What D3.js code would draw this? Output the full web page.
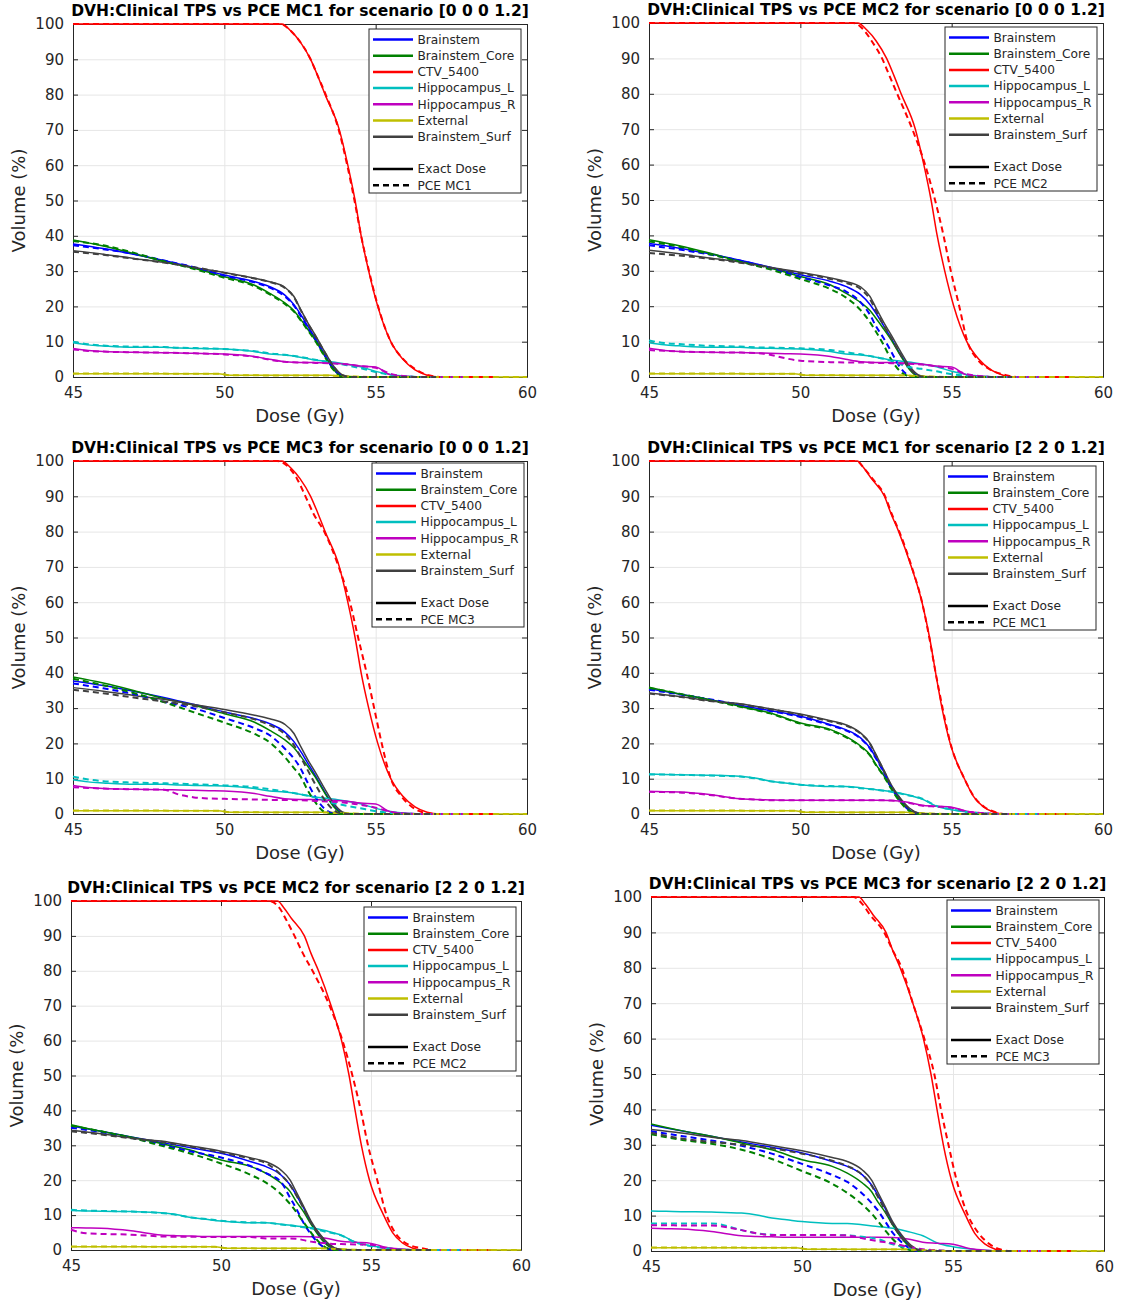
<!DOCTYPE html>
<html>
<head>
<meta charset="utf-8">
<script src="https://cdn.jsdelivr.net/npm/d3@7"></script>
<style>
  html, body { margin: 0; padding: 0; background: #ffffff; }
  svg { display: block; font-family: "DejaVu Sans", "Liberation Sans", sans-serif; }
</style>
</head>
<body>
<svg id="fig" width="1121" height="1304"></svg>
<script>
// ---------------- data ----------------
const structureNames = ["Brainstem", "Brainstem_Core", "CTV_5400", "Hippocampus_L",
                        "Hippocampus_R", "External", "Brainstem_Surf"];

const panelTitles = [
  "DVH:Clinical TPS vs PCE MC1 for scenario [0 0 0 1.2]",
  "DVH:Clinical TPS vs PCE MC2 for scenario [0 0 0 1.2]",
  "DVH:Clinical TPS vs PCE MC3 for scenario [0 0 0 1.2]",
  "DVH:Clinical TPS vs PCE MC1 for scenario [2 2 0 1.2]",
  "DVH:Clinical TPS vs PCE MC2 for scenario [2 2 0 1.2]",
  "DVH:Clinical TPS vs PCE MC3 for scenario [2 2 0 1.2]"
];
const pceLabels = ["PCE MC1", "PCE MC2", "PCE MC3", "PCE MC1", "PCE MC2", "PCE MC3"];
const panelScenario = ["s0", "s0", "s0", "s2", "s2", "s2"];
const panelRun = ["mc1", "mc2", "mc3", "mc1", "mc2", "mc3"];

const xTicks = [45, 50, 55, 60];
const yTicks = [0, 10, 20, 30, 40, 50, 60, 70, 80, 90, 100];

// Brainstem family: volume (%) sampled on a shared dose grid (Gy)
const bsDose = [45, 46, 47, 48, 49, 50, 51, 51.5, 52, 52.3, 52.5, 52.75, 53, 53.3, 53.6, 53.9, 54.2, 57];

const brainstemVol = {
  exact_s0: [37.7, 36.4, 34.8, 33.0, 31.0, 28.9, 27.0, 25.6, 23.2, 20.5, 18.0, 14.5, 11.0, 6.5, 2.6, 0.3, 0, 0],
  mc1_s0:   [37.3, 36.2, 34.9, 33.0, 31.1, 28.7, 26.8, 25.3, 22.8, 20.2, 17.6, 14.2, 10.8, 6.4, 2.4, 0.3, 0, 0],
  mc2_s0:   [37.2, 36.0, 34.6, 32.9, 30.8, 28.2, 25.8, 24.2, 21.0, 17.6, 14.3, 11.0, 7.2, 2.7, 0.4, 0, 0, 0],
  mc3_s0:   [37.0, 35.6, 34.0, 31.8, 29.9, 27.2, 24.3, 22.3, 18.5, 15.7, 13.2, 8.9, 4.9, 1.6, 0.2, 0, 0, 0],
  exact_s2: [35.5, 34.0, 32.4, 30.8, 29.3, 27.7, 25.3, 23.9, 21.5, 18.7, 15.9, 12.1, 7.8, 4.1, 1.2, 0.1, 0, 0],
  mc1_s2:   [35.2, 33.9, 32.5, 30.9, 29.2, 27.5, 25.1, 23.7, 21.3, 18.5, 15.7, 11.9, 7.6, 3.9, 1.1, 0.1, 0, 0],
  mc2_s2:   [35.0, 33.8, 32.2, 30.2, 28.2, 26.5, 24.0, 22.0, 19.5, 15.0, 12.0, 7.8, 4.5, 1.6, 0.3, 0, 0, 0],
  mc3_s2:   [33.8, 32.5, 31.2, 29.7, 27.5, 24.6, 21.5, 19.5, 16.2, 13.6, 11.6, 8.4, 5.2, 2.5, 0.6, 0, 0, 0]
};

const coreVol = {
  exact_s0: [38.8, 37.1, 35.0, 32.7, 30.8, 28.4, 26.0, 23.7, 21.0, 18.8, 16.6, 13.6, 10.5, 6.2, 2.2, 0.1, 0, 0],
  mc1_s0:   [38.5, 37.3, 35.2, 32.8, 30.6, 28.1, 25.7, 23.4, 20.7, 18.5, 16.3, 13.3, 10.3, 6.0, 2.1, 0.1, 0, 0],
  mc2_s0:   [38.3, 36.8, 34.7, 32.6, 30.4, 27.7, 24.8, 22.5, 18.8, 15.5, 12.8, 9.1, 5.0, 1.6, 0.2, 0, 0, 0],
  mc3_s0:   [38.3, 36.5, 34.3, 31.7, 28.8, 25.9, 22.7, 20.3, 16.1, 13.0, 10.9, 6.8, 3.4, 0.6, 0, 0, 0, 0],
  exact_s2: [35.9, 34.0, 32.4, 30.5, 28.6, 25.8, 23.9, 22.0, 19.2, 16.8, 14.0, 11.0, 7.4, 3.6, 1.0, 0, 0, 0],
  mc1_s2:   [35.7, 34.1, 32.3, 30.4, 28.5, 25.6, 23.7, 21.8, 19.0, 16.6, 13.8, 10.8, 7.2, 3.4, 0.9, 0, 0, 0],
  mc2_s2:   [35.6, 34.0, 32.2, 29.9, 27.6, 24.8, 21.5, 19.3, 16.0, 13.2, 11.0, 8.0, 5.0, 2.0, 0.3, 0, 0, 0],
  mc3_s2:   [33.0, 31.4, 30.3, 28.6, 26.0, 22.6, 19.0, 16.4, 13.1, 10.6, 8.6, 5.9, 3.4, 1.1, 0.2, 0, 0, 0]
};

const surfVol = {
  exact_s0: [35.8, 34.8, 33.6, 32.5, 31.0, 29.6, 28.0, 27.0, 25.4, 22.8, 19.5, 15.5, 11.9, 7.4, 3.2, 0.6, 0, 0],
  mc1_s0:   [35.5, 34.6, 33.5, 32.4, 31.1, 29.5, 27.9, 26.9, 25.2, 22.6, 19.3, 15.3, 11.7, 7.2, 3.1, 0.5, 0, 0],
  mc2_s0:   [35.0, 34.3, 33.4, 32.3, 30.9, 29.3, 27.7, 26.6, 24.8, 22.0, 18.7, 14.6, 11.0, 6.5, 2.5, 0.4, 0, 0],
  mc3_s0:   [35.2, 34.2, 33.0, 31.9, 30.6, 28.8, 26.8, 25.2, 22.6, 19.5, 16.5, 12.5, 8.5, 4.2, 1.2, 0.1, 0, 0],
  exact_s2: [34.3, 33.3, 32.1, 31.2, 29.8, 28.3, 26.4, 25.3, 22.9, 20.1, 16.8, 12.6, 8.3, 4.5, 1.7, 0.3, 0, 0],
  mc1_s2:   [34.1, 33.2, 32.0, 31.1, 29.7, 28.1, 26.2, 25.1, 22.7, 19.9, 16.6, 12.4, 8.1, 4.3, 1.5, 0.2, 0, 0],
  mc2_s2:   [34.0, 33.1, 32.0, 31.0, 29.6, 28.0, 26.1, 24.9, 21.5, 18.6, 15.8, 12.0, 7.8, 4.2, 1.5, 0.2, 0, 0],
  mc3_s2:   [33.4, 31.8, 30.8, 30.0, 29.0, 27.5, 25.5, 24.0, 21.5, 18.5, 15.5, 11.5, 7.5, 3.8, 1.2, 0.2, 0, 0]
};

// CTV: dose (Gy) at which each volume level is reached
const ctvVol = [100, 100, 98, 95, 90, 85, 80, 70, 60, 50, 40, 30, 20, 10, 5, 2, 0.5, 0, 0];
const ctvDose = {
  exact_s0: [45, 51.9, 52.2, 52.5, 52.85, 53.1, 53.33, 53.8, 54.08, 54.32, 54.52, 54.77, 55.07, 55.5, 55.9, 56.3, 56.7, 57.1, 59],
  mc1_s0:   [45, 51.85, 52.2, 52.5, 52.85, 53.1, 53.35, 53.78, 54.06, 54.3, 54.52, 54.78, 55.08, 55.5, 55.92, 56.35, 56.75, 57.2, 59],
  mc2_s0:   [45, 51.75, 52.1, 52.35, 52.7, 52.95, 53.2, 53.7, 54.12, 54.45, 54.73, 54.97, 55.25, 55.52, 55.85, 56.3, 56.8, 57.2, 59],
  mc3_s0:   [45, 51.75, 52.15, 52.4, 52.68, 52.95, 53.3, 53.78, 54.15, 54.42, 54.7, 54.95, 55.2, 55.5, 55.85, 56.2, 56.55, 57.0, 59],
  exact_s2: [45, 51.88, 52.1, 52.35, 52.78, 53.0, 53.25, 53.67, 54.02, 54.27, 54.47, 54.68, 54.95, 55.42, 55.72, 56.05, 56.4, 56.7, 59],
  mc1_s2:   [45, 51.85, 52.1, 52.38, 52.8, 53.02, 53.27, 53.68, 54.02, 54.26, 54.47, 54.7, 54.96, 55.42, 55.73, 56.08, 56.45, 56.8, 59],
  mc2_s2:   [45, 51.6, 51.95, 52.15, 52.45, 52.73, 53.05, 53.62, 54.05, 54.38, 54.66, 54.9, 55.21, 55.52, 55.8, 56.15, 56.7, 57.1, 59],
  mc3_s2:   [45, 51.7, 52.0, 52.25, 52.72, 53.0, 53.3, 53.67, 54.05, 54.38, 54.6, 54.85, 55.12, 55.5, 55.85, 56.2, 56.55, 56.9, 59]
};

// Hippocampi: volume (%) on a shared dose grid (Gy)
const hipDose = [45, 45.5, 46, 47, 48, 48.5, 49, 49.5, 50, 51, 51.5, 52, 52.5, 53, 53.5, 54, 54.5, 55, 55.5, 56, 56.5, 58];

const hipLVol = {
  exact_s0: [9.7, 9.1, 8.8, 8.4, 8.4, 8.2, 8.1, 8.0, 7.9, 7.2, 6.5, 6.2, 5.6, 4.8, 4.3, 3.7, 2.9, 1.6, 0.7, 0.2, 0, 0],
  mc1_s0:   [10.0, 9.3, 8.9, 8.6, 8.5, 8.3, 8.2, 8.1, 7.9, 7.3, 6.7, 6.3, 5.7, 4.9, 4.1, 3.4, 2.5, 1.4, 0.6, 0.2, 0, 0],
  mc2_s0:   [10.3, 9.6, 9.3, 8.8, 8.6, 8.4, 8.3, 8.2, 8.1, 7.6, 7.0, 6.4, 5.6, 4.6, 3.0, 2.3, 1.6, 0.8, 0.4, 0.1, 0, 0],
  mc3_s0:   [10.6, 9.8, 9.3, 8.9, 8.7, 8.6, 8.4, 8.3, 8.1, 7.6, 7.0, 6.4, 5.6, 4.7, 3.3, 2.4, 1.6, 0.8, 0.3, 0.1, 0, 0],
  exact_s2: [11.3, 11.2, 11.1, 11.0, 10.7, 10.2, 9.3, 8.8, 8.3, 7.8, 7.8, 7.4, 6.9, 6.4, 5.5, 4.3, 2.2, 1.2, 0.6, 0.2, 0, 0],
  mc1_s2:   [11.2, 11.2, 11.1, 10.9, 10.6, 10.1, 9.3, 8.8, 8.3, 7.9, 7.8, 7.3, 6.9, 6.3, 5.4, 4.4, 2.3, 1.3, 0.6, 0.2, 0, 0],
  mc2_s2:   [11.5, 11.3, 11.2, 11.0, 10.6, 10.1, 9.3, 8.9, 8.4, 7.9, 7.8, 7.3, 6.8, 6.2, 5.2, 4.2, 2.1, 1.1, 0.5, 0.1, 0, 0],
  mc3_s2:   [7.8, 7.8, 7.8, 7.8, 5.9, 5.0, 4.6, 4.5, 4.5, 4.5, 4.4, 4.0, 3.4, 1.9, 0.9, 0.3, 0.1, 0, 0, 0, 0, 0]
};

const hipRVol = {
  exact_s0: [8.1, 7.5, 7.2, 7.0, 6.9, 6.8, 6.7, 6.6, 6.5, 5.8, 5.0, 4.3, 4.1, 4.1, 3.9, 3.7, 3.1, 2.8, 0.6, 0.2, 0, 0],
  mc1_s0:   [7.8, 7.4, 7.2, 7.0, 6.9, 6.8, 6.7, 6.6, 6.4, 5.7, 4.9, 4.3, 4.1, 4.0, 3.9, 3.6, 3.1, 2.6, 0.9, 0.2, 0, 0],
  mc2_s0:   [7.6, 7.4, 7.2, 7.0, 6.9, 6.8, 6.3, 5.3, 4.6, 4.2, 4.1, 4.1, 4.0, 3.9, 3.8, 3.5, 3.0, 2.3, 0.8, 0.2, 0, 0],
  mc3_s0:   [7.6, 7.4, 7.2, 7.0, 6.9, 5.5, 4.7, 4.4, 4.3, 4.1, 4.0, 4.0, 3.9, 3.7, 3.5, 3.2, 2.6, 1.8, 0.6, 0.1, 0, 0],
  exact_s2: [6.4, 6.3, 6.2, 5.5, 4.3, 4.1, 4.0, 3.9, 3.9, 3.9, 3.9, 3.9, 3.9, 3.8, 3.4, 2.5, 2.2, 1.9, 0.8, 0.3, 0, 0],
  mc1_s2:   [6.3, 6.2, 6.1, 5.4, 4.3, 4.1, 3.9, 3.9, 3.9, 3.9, 3.9, 3.9, 3.9, 3.8, 3.3, 2.4, 2.1, 1.8, 0.7, 0.3, 0, 0],
  mc2_s2:   [5.8, 4.8, 4.6, 4.4, 3.9, 3.8, 3.8, 3.7, 3.7, 3.7, 3.3, 3.3, 3.2, 2.4, 1.9, 1.7, 1.6, 1.5, 0.5, 0.1, 0, 0],
  mc3_s2:   [7.3, 7.3, 7.2, 7.2, 5.9, 5.0, 4.5, 4.5, 4.5, 4.5, 4.4, 3.6, 2.8, 2.2, 1.2, 0.5, 0.2, 0, 0, 0, 0, 0]
};

// External body contour
const extDose = [45, 49.8, 50.2, 53.5, 54, 55, 60];
const externalVol = {
  exact_s0: [0.9, 0.9, 0.5, 0.5, 0.2, 0, 0],
  mc1_s0:   [1.0, 0.9, 0.5, 0.4, 0.2, 0, 0],
  mc2_s0:   [1.0, 0.9, 0.5, 0.4, 0.2, 0, 0],
  mc3_s0:   [1.0, 0.9, 0.5, 0.4, 0.2, 0, 0],
  exact_s2: [0.9, 0.9, 0.5, 0.5, 0.2, 0, 0],
  mc1_s2:   [1.0, 0.9, 0.5, 0.4, 0.2, 0, 0],
  mc2_s2:   [1.0, 0.9, 0.5, 0.4, 0.2, 0, 0],
  mc3_s2:   [1.0, 0.9, 0.5, 0.4, 0.2, 0, 0]
};

// ---------------- styles and layout ----------------
const structureColors = ["#0000ff", "#008000", "#ff0000", "#00bfbf", "#bf00bf", "#bfbf00", "#404040"];
const inkColor = "#262626";
const gridColor = "#e6e6e6";

const panelBoxes = [
  { left: 73,  right: 527,  top: 24,  bottom: 377,  legendX: 369, legendY: 29 },
  { left: 649, right: 1103, top: 23,  bottom: 377,  legendX: 945, legendY: 27 },
  { left: 73,  right: 527,  top: 461, bottom: 814,  legendX: 372, legendY: 463 },
  { left: 649, right: 1103, top: 461, bottom: 814,  legendX: 944, legendY: 466 },
  { left: 71,  right: 521,  top: 901, bottom: 1250, legendX: 364, legendY: 907 },
  { left: 651, right: 1104, top: 897, bottom: 1251, legendX: 947, legendY: 900 }
];
const legendW = 152, legendH = 164, legendRow = 16.2, legendFirst = 10.5;

// structure index -> how its curve is stored
const structureData = [
  { dose: bsDose,  vol: brainstemVol },
  { dose: bsDose,  vol: coreVol },
  { dose: ctvDose, vol: ctvVol },
  { dose: hipDose, vol: hipLVol },
  { dose: hipDose, vol: hipRVol },
  { dose: extDose, vol: externalVol },
  { dose: bsDose,  vol: surfVol }
];

function curvePoints(si, key) {
  const s = structureData[si];
  if (Array.isArray(s.dose)) return s.dose.map((d, k) => [d, s.vol[key][k]]);
  return s.dose[key].map((d, k) => [d, s.vol[k]]);
}

// ---------------- drawing ----------------
const svg = d3.select("#fig");

panelBoxes.forEach((b, pi) => {
  const x = d3.scaleLinear().domain([45, 60]).range([b.left, b.right]);
  const y = d3.scaleLinear().domain([0, 100]).range([b.bottom, b.top]);
  const w = b.right - b.left, h = b.bottom - b.top;
  const g = svg.append("g");

  // grid
  g.append("g").attr("transform", `translate(0,${b.bottom})`)
    .call(d3.axisBottom(x).tickValues(xTicks.slice(1, -1)).tickSize(-h).tickFormat(""))
    .call(a => a.select(".domain").remove())
    .call(a => a.selectAll("line").attr("stroke", gridColor));
  g.append("g").attr("transform", `translate(${b.left},0)`)
    .call(d3.axisLeft(y).tickValues(yTicks.slice(1, -1)).tickSize(-w).tickFormat(""))
    .call(a => a.select(".domain").remove())
    .call(a => a.selectAll("line").attr("stroke", gridColor));

  // axes box with inward ticks
  const styleAxis = a => {
    a.select(".domain").attr("stroke", inkColor);
    a.selectAll(".tick line").attr("stroke", inkColor);
    a.selectAll("text").attr("fill", inkColor).attr("font-size", 15)
      .attr("font-family", "DejaVu Sans, sans-serif");
  };
  g.append("g").attr("transform", `translate(0,${b.bottom})`)
    .call(d3.axisBottom(x).tickValues(xTicks).tickSize(-5).tickSizeOuter(0).tickPadding(10))
    .call(styleAxis);
  g.append("g").attr("transform", `translate(${b.left},0)`)
    .call(d3.axisLeft(y).tickValues(yTicks).tickSize(-5).tickSizeOuter(0).tickPadding(9))
    .call(styleAxis);
  g.append("g").attr("transform", `translate(0,${b.top})`)
    .call(d3.axisTop(x).tickValues(xTicks).tickSize(-5).tickSizeOuter(0).tickFormat(""))
    .call(styleAxis);
  g.append("g").attr("transform", `translate(${b.right},0)`)
    .call(d3.axisRight(y).tickValues(yTicks).tickSize(-5).tickSizeOuter(0).tickFormat(""))
    .call(styleAxis);

  // axis labels and title
  g.append("text")
    .attr("x", (b.left + b.right) / 2).attr("y", b.bottom + 45)
    .attr("text-anchor", "middle").attr("font-size", 18).attr("fill", inkColor)
    .text("Dose (Gy)");
  g.append("text")
    .attr("transform", `translate(${b.left - 48},${(b.top + b.bottom) / 2}) rotate(-90)`)
    .attr("text-anchor", "middle").attr("font-size", 18).attr("fill", inkColor)
    .text("Volume (%)");
  g.append("text")
    .attr("x", (b.left + b.right) / 2).attr("y", b.top - 8)
    .attr("text-anchor", "middle").attr("font-size", 15.5).attr("font-weight", "bold")
    .attr("fill", "#000").text(panelTitles[pi]);

  // curves
  const clipId = "clip" + pi;
  g.append("clipPath").attr("id", clipId).append("rect")
    .attr("x", b.left - 2).attr("y", b.top - 2).attr("width", w + 4).attr("height", h + 4);
  const line = d3.line().x(d => x(d[0])).y(d => y(d[1])).curve(d3.curveMonotoneX);
  const curves = g.append("g").attr("clip-path", `url(#${clipId})`)
    .attr("fill", "none").attr("stroke-linejoin", "round");

  const exactKey = "exact_" + panelScenario[pi];
  const pceKey = panelRun[pi] + "_" + panelScenario[pi];

  structureNames.forEach((name, si) => {
    curves.append("path")
      .attr("d", line(curvePoints(si, exactKey)))
      .attr("stroke", structureColors[si]).attr("stroke-width", 1.5);
  });
  structureNames.forEach((name, si) => {
    curves.append("path")
      .attr("d", line(curvePoints(si, pceKey)))
      .attr("stroke", structureColors[si]).attr("stroke-width", 2)
      .attr("stroke-dasharray", "6,4");
  });

  // legend
  const lg = g.append("g").attr("transform", `translate(${b.legendX},${b.legendY})`);
  lg.append("rect").attr("width", legendW).attr("height", legendH)
    .attr("fill", "#fff").attr("stroke", inkColor).attr("stroke-width", 1);
  const entries = structureNames.map((n, si) => ({ label: n, color: structureColors[si], dash: null, row: si }))
    .concat([{ label: "Exact Dose", color: "#000", dash: null, row: 8 },
             { label: pceLabels[pi], color: "#000", dash: "6,4", row: 9 }]);
  entries.forEach(e => {
    const yy = legendFirst + e.row * legendRow;
    lg.append("line").attr("x1", 4).attr("x2", 44).attr("y1", yy).attr("y2", yy)
      .attr("stroke", e.color).attr("stroke-width", 2.5)
      .attr("stroke-dasharray", e.dash);
    lg.append("text").attr("x", 48.5).attr("y", yy).attr("dy", "0.35em")
      .attr("font-size", 12.2).attr("fill", inkColor).text(e.label);
  });
});
</script>
</body>
</html>
